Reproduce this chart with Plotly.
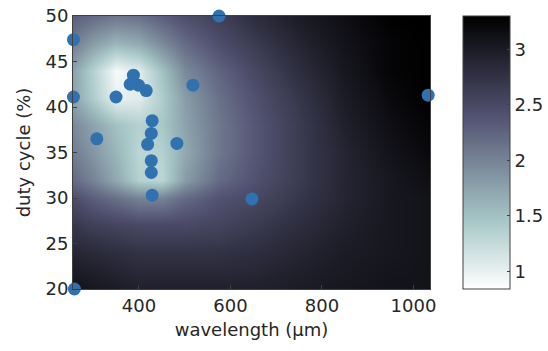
import plotly.graph_objects as go

# scatter observations
wavelength = [575, 257, 388, 381, 399, 416, 518, 257, 350, 1032,
              429, 427, 308, 419, 483, 427, 427, 429, 647, 259]
duty_cycle = [50.0, 47.4, 43.5, 42.5, 42.4, 41.8, 42.4, 41.1, 41.1, 41.3,
              38.5, 37.1, 36.5, 35.9, 36.0, 34.1, 32.8, 30.3, 29.9, 20.0]

# background field
grid_x = [257, 300, 350, 400, 450, 500, 575, 650, 750, 850, 950, 1036]
grid_y = [20, 24, 27, 30, 32, 35, 38, 41, 44, 47, 50]
grid_z = [
    [3.10, 3.05, 3.00, 2.95, 2.95, 2.95, 2.95, 2.95, 3.00, 3.05, 3.10, 3.10],
    [2.90, 2.85, 2.80, 2.75, 2.75, 2.75, 2.75, 2.80, 2.90, 3.00, 3.05, 3.10],
    [2.70, 2.60, 2.55, 2.50, 2.50, 2.50, 2.55, 2.65, 2.80, 2.95, 3.05, 3.10],
    [2.45, 2.30, 2.15, 2.00, 2.00, 2.20, 2.40, 2.50, 2.70, 2.90, 3.05, 3.10],
    [2.20, 2.00, 1.70, 1.35, 1.30, 1.80, 2.20, 2.40, 2.65, 2.90, 3.05, 3.15],
    [2.05, 1.85, 1.60, 1.30, 1.35, 1.70, 2.10, 2.35, 2.65, 2.90, 3.10, 3.20],
    [1.95, 1.75, 1.50, 1.35, 1.45, 1.75, 2.10, 2.35, 2.65, 2.95, 3.15, 3.25],
    [1.75, 1.40, 1.00, 1.05, 1.40, 1.80, 2.15, 2.40, 2.70, 3.00, 3.20, 3.30],
    [1.75, 1.35, 0.90, 1.05, 1.50, 1.95, 2.25, 2.50, 2.80, 3.05, 3.25, 3.30],
    [2.05, 1.80, 1.60, 1.70, 1.95, 2.20, 2.45, 2.65, 2.90, 3.10, 3.25, 3.30],
    [2.30, 2.20, 2.10, 2.15, 2.30, 2.45, 2.60, 2.80, 3.00, 3.15, 3.30, 3.30],
]
cbar_ticks = [1, 1.5, 2, 2.5, 3]

bone_r = [
    [0.0, "rgb(255,255,255)"],
    [0.25, "rgb(167,199,199)"],
    [0.625, "rgb(84,84,116)"],
    [1.0, "rgb(0,0,0)"],
]

axis_col = "#404040"
font = dict(family="DejaVu Sans, sans-serif", size=18, color="#262626")

fig = go.Figure()
fig.add_trace(go.Heatmap(
    x=grid_x, y=grid_y, z=grid_z, zsmooth="best",
    colorscale=bone_r, zmin=0.84, zmax=3.3,
    colorbar=dict(
        x=1.092, xanchor="left", y=0.5, yanchor="middle",
        len=1.0, lenmode="fraction", thickness=47, thicknessmode="pixels",
        outlinecolor=axis_col, outlinewidth=1,
        tickvals=cbar_ticks, ticktext=[str(t) for t in cbar_ticks],
        ticks="inside", ticklen=3, tickcolor=axis_col,
        tickfont=font, xpad=0, ypad=0, ticklabeloverflow="allow",
    ),
    hoverinfo="skip",
))
fig.add_trace(go.Scatter(
    x=wavelength, y=duty_cycle, mode="markers",
    marker=dict(size=13, color="rgb(48,113,176)", line=dict(width=0)),
    cliponaxis=False, showlegend=False, hoverinfo="skip",
))

fig.update_layout(
    width=548, height=351,
    margin=dict(l=73, r=118, t=16, b=62, autoexpand=False),
    paper_bgcolor="white", plot_bgcolor="white",
    font=font, hovermode=False,
    xaxis=dict(
        range=[256, 1036], tickvals=[400, 600, 800, 1000],
        title=dict(text="wavelength (μm)", font=font, standoff=8),
        showgrid=False, zeroline=False, showline=True, mirror=True,
        linecolor=axis_col, linewidth=1, ticks="inside", ticklen=4,
        tickcolor=axis_col, tickfont=font, automargin=False,
        ticklabeloverflow="allow",
    ),
    yaxis=dict(
        range=[20, 50], tickvals=[20, 25, 30, 35, 40, 45, 50],
        title=dict(text="duty cycle (%)", font=font, standoff=10),
        showgrid=False, zeroline=False, showline=True, mirror=True,
        linecolor=axis_col, linewidth=1, ticks="inside", ticklen=4,
        tickcolor=axis_col, tickfont=font, automargin=False,
        ticklabeloverflow="allow",
    ),
)

# remove the default page margin so the 548x351 figure fills the window
fig.write_html(
    "out.html",
    config={"displayModeBar": False, "staticPlot": True},
    post_script="document.body.style.margin='0';",
)
